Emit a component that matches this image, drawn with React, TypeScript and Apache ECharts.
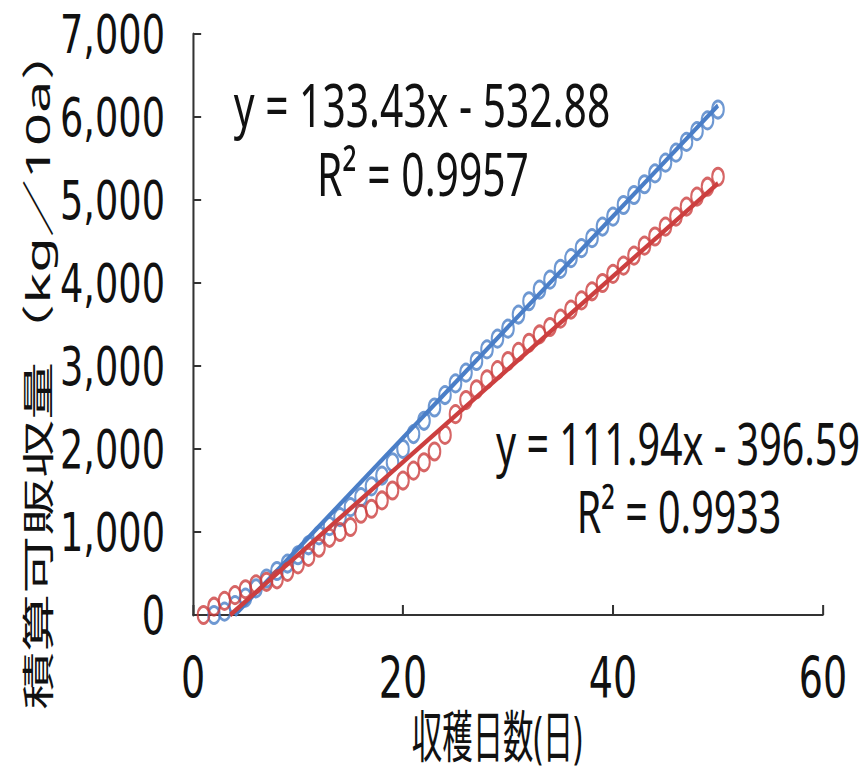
import React, { useEffect, useRef } from "react";
import * as echarts from "echarts";

// ---- data ----
const redDays = [1,2,3,4,5,6,7,8,9,10,11,12,13,14,15,16,17,18,19,20,21,22,23,24,25,26,27,28,29,30,31,32,33,34,35,36,37,38,39,40,41,42,43,44,45,46,47,48,49,50];
const redYield = [0,100,170,240,310,370,400,430,520,610,700,810,930,1000,1060,1220,1280,1380,1500,1620,1740,1840,1970,2170,2420,2590,2720,2840,2950,3060,3170,3280,3380,3470,3570,3680,3790,3900,4000,4110,4210,4330,4450,4560,4680,4800,4920,5040,5160,5280];
const blueDays = [2,3,4,5,6,7,8,9,10,11,12,13,14,15,16,17,18,19,20,21,22,23,24,25,26,27,28,29,30,31,32,33,34,35,36,37,38,39,40,41,42,43,44,45,46,47,48,49,50];
const blueYield = [0,40,120,210,320,440,530,620,720,840,960,1070,1180,1300,1420,1550,1680,1840,2000,2180,2340,2500,2650,2790,2920,3060,3200,3330,3450,3620,3780,3920,4040,4170,4300,4420,4540,4680,4800,4940,5060,5190,5320,5450,5570,5700,5830,5960,6090];

const blueSlope = 133.43;
const blueIntercept = -532.88;
const redSlope = 111.94;
const redIntercept = -396.59;
const fitEndDay = 50;

const blueEqText = "y = 133.43x - 532.88";
const blueR2Text = "R² = 0.9957";
const redEqText = "y = 111.94x - 396.59";
const redR2Text = "R² = 0.9933";

const xAxisTitle = "収穫日数(日)";
const yAxisTitle = "積算可販収量（kg／10a）";

const xMin = 0, xMax = 60, xInterval = 20;
const yMin = 0, yMax = 7000, yInterval = 1000;

// ---- layout ----
const S = 0.68; // horizontal squeeze of the reference picture
const H = 782;
const W = Math.round(864 / S);
const u = (xRef: number) => xRef / S;

const BLUE = "#4A7EC7";
const RED = "#CC3F3F";
const INK = "#111111";
const AXIS = "#333333";
const FONT = "'Noto Sans', 'Noto Sans CJK JP', sans-serif";
const TICK_FONT = "'DejaVu Sans', 'Noto Sans', sans-serif";

function fitLine(slope: number, intercept: number) {
  const x0 = -intercept / slope;
  return [
    [x0, slope * x0 + intercept],
    [fitEndDay, slope * fitEndDay + intercept],
  ];
}

export default function App() {
  const ref = useRef<HTMLDivElement>(null);
  useEffect(() => {
    if (!ref.current) return;
    const chart = echarts.init(ref.current, null, { renderer: "svg" });
    const eqStyle = (text: string, size: number) => ({
      text,
      fill: INK,
      fontSize: size,
      fontFamily: FONT,
      textAlign: "center",
      textVerticalAlign: "middle",
    });
    chart.setOption({
      animation: false,
      backgroundColor: "#ffffff",
      grid: {
        left: u(193),
        right: W - u(823),
        top: 34,
        bottom: H - 615,
        containLabel: false,
      },
      xAxis: {
        type: "value",
        min: xMin,
        max: xMax,
        interval: xInterval,
        axisLine: { show: true, lineStyle: { color: AXIS, width: 2 } },
        axisTick: { show: true, inside: true, length: 10, lineStyle: { color: AXIS, width: 3 } },
        splitLine: { show: false },
        axisLabel: { color: INK, fontSize: 56, fontFamily: TICK_FONT, margin: 36 },
      },
      yAxis: {
        type: "value",
        min: yMin,
        max: yMax,
        interval: yInterval,
        axisLine: { show: true, lineStyle: { color: AXIS, width: 3 } },
        axisTick: { show: true, inside: true, length: 12, lineStyle: { color: AXIS, width: 2 } },
        splitLine: { show: false },
        axisLabel: {
          color: INK,
          fontSize: 54,
          fontFamily: TICK_FONT,
          margin: u(28),
          formatter: (v: number) => v.toLocaleString("en-US"),
        },
      },
      series: [
        {
          type: "scatter",
          data: blueDays.map((d, i) => [d, blueYield[i]]),
          symbol: "circle",
          symbolSize: 17,
          itemStyle: { color: "rgba(255,255,255,0)", borderColor: BLUE, borderWidth: 3 },
          z: 2,
        },
        {
          type: "line",
          data: fitLine(blueSlope, blueIntercept),
          showSymbol: false,
          lineStyle: { color: BLUE, width: 5 },
          z: 3,
        },
        {
          type: "scatter",
          data: redDays.map((d, i) => [d, redYield[i]]),
          symbol: "circle",
          symbolSize: 17,
          itemStyle: { color: "rgba(255,255,255,0)", borderColor: RED, borderWidth: 3 },
          z: 4,
        },
        {
          type: "line",
          data: fitLine(redSlope, redIntercept),
          showSymbol: false,
          lineStyle: { color: RED, width: 5 },
          z: 5,
        },
      ],
      graphic: [
        { type: "text", x: u(422), y: 104, style: eqStyle(blueEqText, 60) },
        { type: "text", x: u(423), y: 173, style: eqStyle(blueR2Text, 60) },
        { type: "text", x: u(678), y: 443, style: eqStyle(redEqText, 58) },
        { type: "text", x: u(679), y: 511, style: eqStyle(redR2Text, 58) },
        {
          type: "text",
          x: u(497),
          y: 735,
          scaleX: 0.8,
          style: { text: xAxisTitle, fill: INK, fontSize: 56, fontFamily: FONT, textAlign: "center", textVerticalAlign: "middle" },
        },
        {
          type: "text",
          x: u(38),
          y: 366,
          rotation: Math.PI / 2,
          scaleY: 0.82,
          style: { text: yAxisTitle, fill: INK, fontSize: 58, fontFamily: FONT, textAlign: "center", textVerticalAlign: "middle" },
        },
      ],
    });
    return () => chart.dispose();
  }, []);
  return (
    <div style={{ position: "fixed", left: 0, top: 0, width: 864, height: H, overflow: "hidden", background: "#fff" }}>
      <div
        ref={ref}
        style={{ width: W, height: H, transform: `scaleX(${S})`, transformOrigin: "0 0" }}
      />
    </div>
  );
}
